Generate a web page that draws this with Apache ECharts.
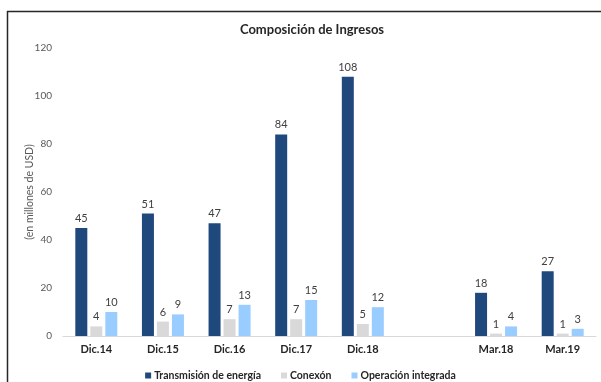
<!DOCTYPE html>
<html><head><meta charset="utf-8">
<script src="https://cdn.jsdelivr.net/npm/echarts@6/dist/echarts.min.js"></script>
<style>html,body{margin:0;padding:0;background:#fff}#c{width:601px;height:382px}</style>
</head><body><div id="c"></div>
<script>
const categories = ['Dic.14','Dic.15','Dic.16','Dic.17','Dic.18','','Mar.18','Mar.19'];
const transmision = [45, 51, 47, 84, 108, null, 18, 27];
const conexion = [4, 6, 7, 7, 5, null, 1, 1];
const operacion = [10, 9, 13, 15, 12, null, 4, 3];
const yTicks = [0, 20, 40, 60, 80, 100, 120];

const font = 'Lato, "Open Sans", sans-serif';
const chart = echarts.init(document.getElementById('c'), null, {renderer:'canvas'});
const lbl = {show:true, position:'top', distance:4, color:'#404040', fontSize:11, fontFamily:font};
function mk(name, data, color){
  return {name, type:'bar', data, barWidth:12, barGap:'25%', itemStyle:{color}, label:lbl};
}
chart.setOption({
  animation:false,
  backgroundColor:'#fff',
  title:{text:'Composición de Ingresos', left:307, textAlign:'center', top:18,
    textStyle:{fontSize:13, fontWeight:'bold', color:'#262626', fontFamily:font}},
  legend:{top:365, left:'center', itemWidth:6, itemHeight:6, itemGap:20, icon:'rect',
    textStyle:{fontSize:10.5, color:'#262626', fontWeight:'bold', fontFamily:font, padding:[0,0,0,-2]},
    data:['Transmisión de energía','Conexón','Operación integrada']},
  grid:{left:63, right:5, top:48, bottom:46, containLabel:false},
  xAxis:{type:'category', data:categories,
    axisLine:{lineStyle:{color:'#d9d9d9'}}, axisTick:{show:false},
    axisLabel:{color:'#262626', fontWeight:'bold', fontSize:11, fontFamily:font, margin:8}},
  yAxis:{type:'value', min:yTicks[0], max:yTicks[yTicks.length-1], interval:20,
    name:'(en millones de USD)', nameLocation:'middle', nameGap:28, nameRotate:90,
    nameMoveOverlap:false,
    nameTextStyle:{color:'#595959', fontSize:10.5, fontFamily:font},
    splitLine:{show:false}, axisLine:{show:false}, axisTick:{show:false},
    axisLabel:{color:'#595959', fontSize:10, fontFamily:font, margin:11}},
  series:[
    mk('Transmisión de energía', transmision, '#1f497d'),
    mk('Conexón', conexion, '#d9d9d9'),
    mk('Operación integrada', operacion, '#99ccff')
  ],
  graphic:[
    {type:'line', shape:{x1:7, y1:11.5, x2:601, y2:11.5}, style:{stroke:'#262626', lineWidth:1.5}},
    {type:'line', shape:{x1:7.5, y1:11, x2:7.5, y2:382}, style:{stroke:'#262626', lineWidth:1.5}}
  ]
});
</script></body></html>
